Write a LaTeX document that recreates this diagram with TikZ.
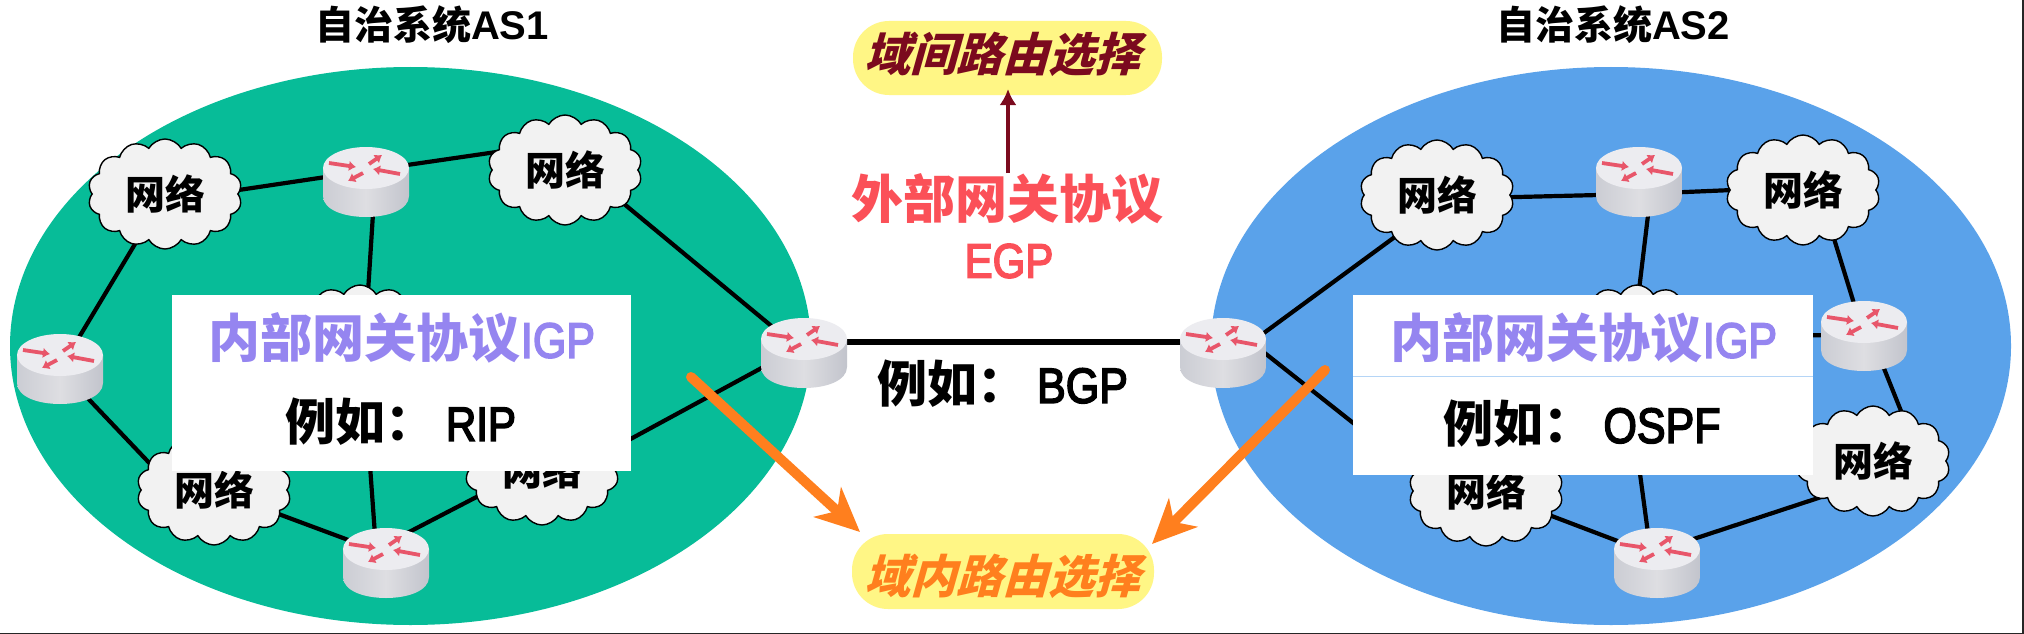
\documentclass[tikz,border=0pt]{standalone}
\usepackage{fontspec}
\usetikzlibrary{arrows.meta,shapes.symbols,shapes.geometric,calc}
\newfontfamily\cjk{Noto Sans CJK SC}
\newfontfamily\cjks[FakeSlant=0.28]{Noto Sans CJK SC}
\setmainfont{Liberation Sans}
\newfontfamily\latm[FakeBold=3.5]{Liberation Sans}
\newcommand{\fsz}[1]{\fontsize{#1}{#1}\selectfont}
\newcommand{\tall}[1]{\scalebox{1}[1.15]{#1}}
\definecolor{asone}{HTML}{07BC98}
\definecolor{astwo}{HTML}{5AA2EA}
\definecolor{cloudfill}{HTML}{F2F2F2}
\definecolor{igpcol}{HTML}{9585F0}
\definecolor{egpcol}{HTML}{FB5058}
\definecolor{ovalcol}{HTML}{FFF685}
\definecolor{interc}{HTML}{7B0A1E}
\definecolor{intrac}{HTML}{FF7F1E}
\definecolor{arrred}{HTML}{E8566A}
\definecolor{rtop}{HTML}{ECECF0}
\definecolor{rdark}{HTML}{C2C4CC}
\definecolor{rlight}{HTML}{DEDEE2}
\pgfdeclarelayer{back}
\pgfdeclarelayer{edge}
\pgfdeclarelayer{front}
\pgfsetlayers{back,edge,main,front}
\tikzset{
  link/.style={line width=4.2pt,black},
  rarrow/.style={arrred,line width=3.8pt,-{Latex[length=7pt,width=10.5pt]}},
  routerbox/.style={inner sep=0pt,minimum width=86pt,minimum height=70pt,
    path picture={
      \begin{scope}[shift={(path picture bounding box.center)},x=1pt,y=-1pt]
        \shade[left color=rdark!85!white,right color=rdark,middle color=rlight]
          (-43,-14) -- (-43,14) .. controls (-43,42) and (43,42) .. (43,14) -- (43,-14) -- cycle;
        \fill[rtop] (0,-14) ellipse[x radius=43,y radius=21];
        \draw[rarrow] (-37,-19) -- (-10,-15);
        \draw[rarrow] (34,-8) -- (7,-13);
        \draw[rarrow] (-3,-9) -- (-18,-1);
        \draw[rarrow] (3,-18) -- (16,-27);
      \end{scope}
    }},
  netcloud/.style={cloud,cloud puffs=14,cloud puff arc=120,aspect=1.3,draw=black,line width=1.4pt,fill=cloudfill,
    inner sep=0pt,minimum width=154pt,minimum height=110pt,font=\cjk\bfseries\fsz{40}},
  whitebox/.style={fill=white,inner sep=0pt},
  titletxt/.style={inner sep=0pt,font=\bfseries},
  oval/.style={fill=ovalcol,rounded corners=36pt,inner sep=0pt},
  bigarrow/.style={intrac,line width=10pt,line cap=round,-{Stealth[length=44pt,width=40pt,inset=13pt]}},
}
\begin{document}
\begin{tikzpicture}[x=1pt,y=-1pt]
\useasboundingbox (0,0) rectangle (2024,634);
\begin{pgfonlayer}{back}
  \fill[white] (0,0) rectangle (2024,634);
  \fill[black!85] (0,632.5) rectangle (2024,634);
  \fill[black!85] (2022,0) rectangle (2024,634);
  \node[ellipse,fill=asone,inner sep=0pt,minimum width=801pt,minimum height=558pt] (as1) at (410.5,346) {};
  \node[ellipse,fill=astwo,inner sep=0pt,minimum width=800pt,minimum height=558pt] (as2) at (1611,346) {};
\end{pgfonlayer}

% AS1
\node[routerbox] (a1) at (366,182) {};
\node[routerbox] (a2) at (60,369) {};
\node[routerbox] (a3) at (804,353) {};
\node[routerbox] (a4) at (386,563) {};
\node[netcloud] (n1) at (165,194) {网络};
\node[netcloud] (n2) at (565,170) {网络};
\node[netcloud] (n3) at (214,490) {网络};
\node[netcloud] (n4) at (542,470) {网络};
\node[netcloud] (n5) at (360,340) {};

% AS2
\node[routerbox] (b1) at (1639,182) {};
\node[routerbox] (b2) at (1223,353) {};
\node[routerbox] (b3) at (1864,336) {};
\node[routerbox] (b4) at (1657,563) {};
\node[netcloud] (m1) at (1437,195) {网络};
\node[netcloud] (m2) at (1803,190) {网络};
\node[netcloud] (m3) at (1873,461) {网络};
\node[netcloud] (m4) at (1486,491) {网络};
\node[netcloud] (m5) at (1637,340) {};

\begin{pgfonlayer}{edge}
  \draw[link] ($(n1.center)+(0,7)$) -- ($(a1.center)+(0,-11)$);
  \draw[link] ($(a1.center)+(0,-11)$) -- ($(n2.center)+(0,-28)$);
  \draw[link] (n1.center) -- (a2.center);
  \draw[link] (a2.center) -- ($(n3.center)+(-39,0)$);
  \draw[link] (n3.center) -- ($(a4.center)+(0,-9)$);
  \draw[link] ($(a4.center)+(0,-19)$) -- ($(n4.center)+(0,-7)$);
  \draw[link] ($(n4.center)+(0,17)$) -- ($(a3.center)+(0,-8)$);
  \draw[link] ($(n2.center)+(0,-15)$) -- (a3.center);
  \draw[link] ($(a1.center)+(9,0)$) -- ($(n5.center)+(5,0)$);
  \draw[link] ($(n5.center)+(1,0)$) -- ($(a4.center)+(-9,0)$);
  \draw[link] ($(m1.center)+(0,4)$) -- ($(b1.center)+(0,12)$);
  \draw[link] ($(b1.center)+(0,12)$) -- ($(m2.center)+(0,-3)$);
  \draw[link] ($(m2.center)+(16,0)$) -- (b3.center);
  \draw[link] ($(b3.center)+(7,0)$) -- ($(m3.center)+(48,0)$);
  \draw[link] ($(m3.center)+(0,19)$) -- ($(b4.center)+(0,-12)$);
  \draw[link] ($(b4.center)+(0,-7)$) -- (m4.center);
  \draw[link] ($(b2.center)+(0,10)$) -- ($(m1.center)+(0,11)$);
  \draw[link] ($(b2.center)+(0,-33)$) -- ($(m4.center)+(0,37)$);
  \draw[link] ($(b1.center)+(13,0)$) -- ($(m5.center)+(-4,0)$);
  \draw[link] ($(m5.center)+(-15,0)$) -- ($(b4.center)+(-5,0)$);
  \draw[link] ($(b3.center)+(0,-2)$) -- (m5.center);
  \draw[line width=5.5pt,black] ($(a3.center)+(0,-11)$) -- ($(b2.center)+(0,-11)$);
\end{pgfonlayer}

\begin{pgfonlayer}{front}
  \node[whitebox,minimum width=459pt,minimum height=176pt] (box1) at (401.5,383) {};
  \node[whitebox,minimum width=460pt,minimum height=180pt] (box2) at (1583,385) {};
  \coordinate (bl) at (1353,376);
  \coordinate (br) at (1813,376);
  \draw[line width=1pt,color=astwo!45!white] (bl) -- (br);
  \node[inner sep=0pt,text=igpcol] (igp1) at (402,338) {\cjk\bfseries\fsz{52}内部网关协议\mdseries\latm\fsz{43}\tall{IGP}};
  \node[inner sep=0pt] (ex1) at (401,422) {\cjk\bfseries\fsz{50}例如：\hspace{10pt}\mdseries\latm\fsz{42}\tall{RIP}};
  \node[inner sep=0pt,text=igpcol] (igp2) at (1584,338) {\cjk\bfseries\fsz{52}内部网关协议\mdseries\latm\fsz{43}\tall{IGP}};
  \node[inner sep=0pt] (ex2) at (1582,424) {\cjk\bfseries\fsz{50}例如：\hspace{10pt}\mdseries\latm\fsz{43}\tall{OSPF}};

  % centre
  \node[titletxt] (t1) at (432,25) {\cjk\bfseries\fsz{39}自治系统\fontspec{Liberation Sans}\bfseries\fsz{40}AS1};
  \node[titletxt] (t2) at (1613,25) {\cjk\bfseries\fsz{39}自治系统\fontspec{Liberation Sans}\bfseries\fsz{40}AS2};
  \node[oval,minimum width=309pt,minimum height=74pt] (inter) at (1007.5,58) {};
  \node[inner sep=0pt,text=interc] (intertxt) at (1002,54) {\cjks\bfseries\fsz{46}域间路由选择};
  \node[oval,minimum width=302pt,minimum height=75pt] (intra) at (1003,571.5) {};
  \node[inner sep=0pt,text=intrac] (intratxt) at (1002,576) {\cjks\bfseries\fsz{46}域内路由选择};
  \node[inner sep=0pt,text=egpcol] (egpa) at (1007,199) {\cjk\bfseries\fsz{52}外部网关协议};
  \node[inner sep=0pt,text=egpcol] (egpb) at (1009,261) {\latm\fsz{42}\tall{EGP}};
  \node[inner sep=0pt] (ex3) at (1002.5,384) {\cjk\bfseries\fsz{50}例如：\hspace{10pt}\mdseries\latm\fsz{43}\tall{BGP}};

  \coordinate (s1) at (691,377);
  \coordinate (e1) at (860,532);
  \coordinate (s2) at (1325,370);
  \coordinate (e2) at (1152,544);
  \coordinate (s3) at (1008,173);
  \coordinate (e3) at (1008,89);
  \draw[bigarrow] (s1) -- (e1);
  \draw[bigarrow] (s2) -- (e2);
  \draw[color=interc,line width=3.5pt,-{Latex[length=16pt,width=17pt]}] (s3) -- (e3);
\end{pgfonlayer}
\end{tikzpicture}
\end{document}
